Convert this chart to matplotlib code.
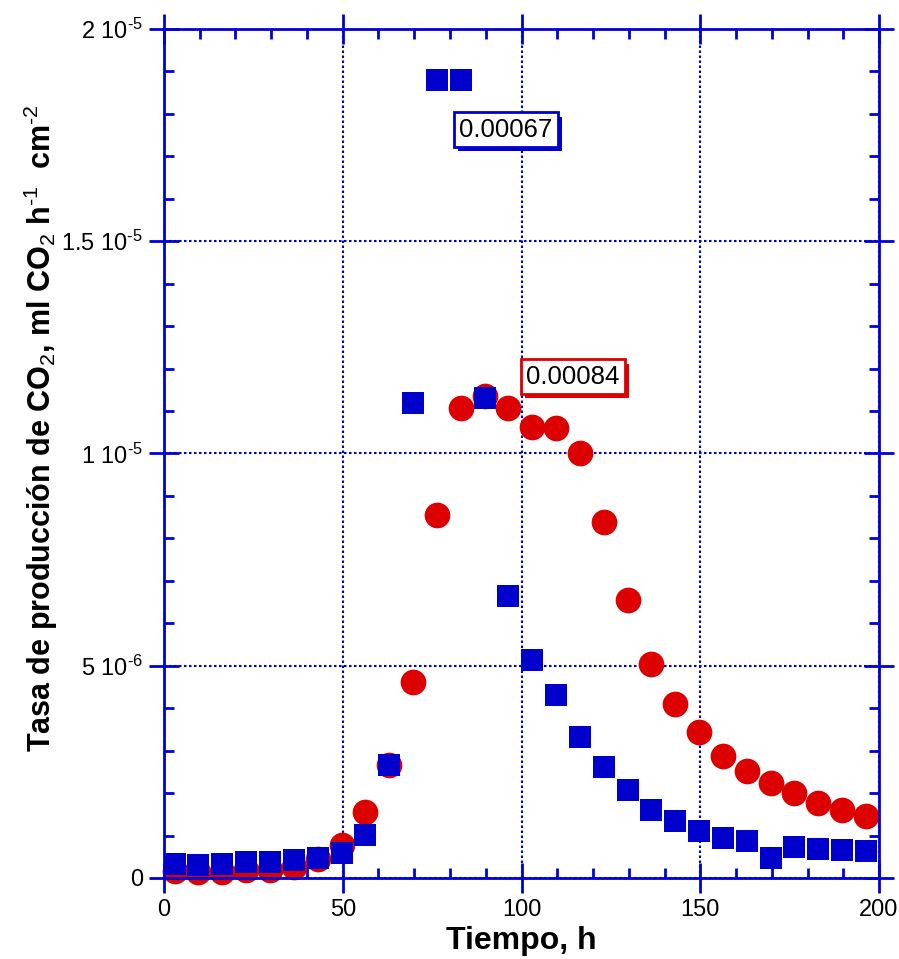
import matplotlib
matplotlib.use("Agg")
import matplotlib.pyplot as plt
from matplotlib.ticker import MultipleLocator, FuncFormatter
import matplotlib.patheffects as pe

plt.rcParams['font.family'] = ['Liberation Sans', 'DejaVu Sans']
plt.rcParams['mathtext.fontset'] = 'custom'
plt.rcParams['mathtext.rm'] = 'Liberation Sans'
plt.rcParams['mathtext.it'] = 'Liberation Sans:italic'
plt.rcParams['mathtext.bf'] = 'Liberation Sans:bold'

# Sampling times (h)
tiempo = [3.0, 9.5, 16.2, 23.0, 29.6, 36.4, 43.0, 49.7, 56.3, 63.0,
          69.7, 76.3, 83.0, 89.7, 96.3, 103.0, 109.7, 116.3, 123.0, 129.7,
          136.3, 143.0, 149.7, 156.3, 163.0, 169.7, 176.3, 183.0, 189.7, 196.3]

# CO2 production rate, series with circular markers (ml CO2 h^-1 cm^-2)
tasa_circulos = [1.6e-7, 1.4e-7, 1.5e-7, 1.9e-7, 1.9e-7, 2.6e-7, 4.5e-7, 7.8e-7, 1.56e-6, 2.66e-6,
                 4.62e-6, 8.55e-6, 1.107e-5, 1.135e-5, 1.107e-5, 1.062e-5, 1.06e-5, 1.0e-5, 8.39e-6, 6.55e-6,
                 5.04e-6, 4.1e-6, 3.44e-6, 2.87e-6, 2.52e-6, 2.24e-6, 2.0e-6, 1.77e-6, 1.6e-6, 1.46e-6]

# CO2 production rate, series with square markers (ml CO2 h^-1 cm^-2)
tasa_cuadrados = [3.3e-7, 3.1e-7, 3.2e-7, 3.7e-7, 3.7e-7, 4.2e-7, 4.6e-7, 5.8e-7, 1.01e-6, 2.66e-6,
                  1.119e-5, 1.88e-5, 1.88e-5, 1.131e-5, 6.64e-6, 5.14e-6, 4.31e-6, 3.32e-6, 2.61e-6, 2.07e-6,
                  1.6e-6, 1.34e-6, 1.11e-6, 9.4e-7, 8.6e-7, 4.6e-7, 7.2e-7, 6.8e-7, 6.7e-7, 6.4e-7]

etiqueta_cuadrados = "0.00067"
etiqueta_circulos = "0.00084"

AZUL = '#0000cc'
ROJO = '#dd0000'
EJE = '#0000d8'

fig = plt.figure(figsize=(8.99, 9.59), dpi=100)
ax = fig.add_axes([0.1824, 0.0845, 0.7954, 0.8853])

ax.set_xlim(0, 200)
ax.set_ylim(0, 2e-5)

ax.plot(tiempo, tasa_circulos, linestyle='none', marker='o', markersize=18.5,
        markerfacecolor=ROJO, markeredgecolor=ROJO, markeredgewidth=0, zorder=3, clip_on=False)
ax.plot(tiempo, tasa_cuadrados, linestyle='none', marker='s', markersize=16.2,
        markerfacecolor=AZUL, markeredgecolor=AZUL, markeredgewidth=0, zorder=4, clip_on=False)

# Axes styling
for s in ax.spines.values():
    s.set_color(EJE)
    s.set_linewidth(2)
    s.set_zorder(5)

ax.xaxis.set_major_locator(MultipleLocator(50))
ax.xaxis.set_minor_locator(MultipleLocator(10))
ax.yaxis.set_major_locator(MultipleLocator(5e-6))
ax.yaxis.set_minor_locator(MultipleLocator(1e-6))

ax.tick_params(which='major', direction='inout', length=22, width=2, color=EJE,
               labelsize=17, pad=4, top=True, right=True)
ax.tick_params(which='minor', direction='in', length=7, width=2, color=EJE,
               top=True, right=True)


def fmt_y(v, pos):
    if abs(v) < 1e-12:
        return '0'
    exp = int(f"{v:e}".split('e')[1])
    mant = v / 10 ** exp
    mtxt = f"{mant:g}"
    return r'$\mathregular{' + mtxt + r'\ 10^{\text{' + str(exp) + r'}}}$'


ax.yaxis.set_major_formatter(FuncFormatter(fmt_y))
ax.xaxis.set_major_formatter(FuncFormatter(lambda v, p: f"{v:g}"))

ax.grid(which='major', color=AZUL, linestyle=(0, (1.2, 1.2)), linewidth=1.5)
ax.set_axisbelow(True)

ax.set_xlabel('Tiempo, h', fontsize=23, fontweight='bold', labelpad=4)
ax.set_ylabel(r'Tasa de producción de CO$_{2}$, ml CO$_{2}$ h$^{\text{-1}}$  cm$^{\text{-2}}$',
              fontsize=22, fontweight='bold')
ax.yaxis.set_label_coords(-0.146, 0.53)


def caja(x, y, txt, color):
    t = ax.text(x, y, txt, fontsize=18.5, ha='left', va='center', zorder=6,
                bbox=dict(boxstyle='square,pad=0.2', facecolor='white',
                          edgecolor=color, linewidth=2))
    t.get_bbox_patch().set_path_effects([
        pe.SimplePatchShadow(offset=(3, -3), shadow_rgbFace=color, alpha=1),
        pe.Normal()])
    return t


caja(82.6, 1.763e-5, etiqueta_cuadrados, AZUL)
caja(101.3, 1.181e-5, etiqueta_circulos, ROJO)

fig.savefig('out.png', dpi=100)
